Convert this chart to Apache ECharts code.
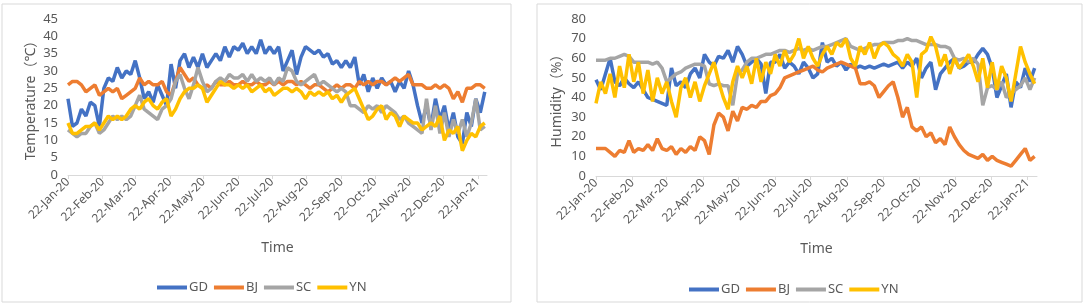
<!DOCTYPE html>
<html>
<head>
<meta charset="utf-8">
<script src="https://cdn.jsdelivr.net/npm/echarts@6/dist/echarts.min.js"></script>
<style>
  html, body { margin: 0; padding: 0; background: #fff; }
  #main { width: 1084px; height: 307px; }
</style>
</head>
<body>
<div id="main"></div>
<script>
// one sample every 4 days, starting 22-Jan-2020
const startDate = '2020-01-22';
const dayCount = 375;
const sampleStep = 4;
const seriesNames = ['GD', 'BJ', 'SC', 'YN'];
const colors = ['#4472C4', '#ED7D31', '#A5A5A5', '#FFC000'];

// temperature (℃)
const tempGD = [22,14,15,19,17,21,20,14,25,28,27,31,28,30,29,33,28,22,24,21,26,23,20,32,25,33,35,31,34,31,35,31,33,35,33,37,34,37,36,38,35,37,35,39,35,37,35,37,30,33,36,29,34,37,36,35,36,34,35,32,33,31,33,31,34,26,29,24,28,25,28,26,27,24,27,25,30,26,20,15,20,14,22,16,20,13,18,11,9,18,14,22,18,24];
const tempBJ = [26,27,27,26,24,25,26,23,24,25,24,25,22,23,24,25,28,26,27,26,26,27,24,23,27,31,29,27,28,26,25,26,25,27,26,26,27,26,26,27,26,26,27,26,26,27,26,27,26,27,27,26,27,26,25,26,26,25,24,25,26,25,26,26,25,27,26,27,26,27,27,26,27,28,27,28,29,26,26,26,25,25,26,25,26,25,22,24,21,25,25,26,26,25];
const tempSC = [13,12,11,12,12,14,15,12,13,15,17,16,17,16,17,20,23,19,18,17,16,19,20,22,27,29,25,22,26,31,27,24,25,27,28,27,29,28,28,29,27,29,27,28,27,28,26,28,27,31,30,27,26,27,28,29,26,27,26,25,24,25,24,20,20,19,18,20,19,20,18,20,19,18,16,17,15,14,13,12,22,13,20,12,18,11,16,12,16,11,15,22,13,14];
const tempYN = [15,12,12,13,14,14,15,13,15,17,16,17,16,17,19,20,19,21,22,20,19,21,22,17,19,22,24,25,25,26,25,21,23,25,27,26,26,25,26,25,26,24,25,26,24,25,23,24,25,25,24,25,24,22,24,23,24,23,24,22,23,21,23,24,25,22,19,16,17,19,20,16,18,17,14,17,16,15,15,13,14,15,14,17,10,13,12,14,7,10,12,11,14,15];

// humidity (%)
const humGD = [49,44,52,60,48,46,50,47,45,48,44,40,39,38,37,36,55,46,48,45,52,55,50,62,58,56,61,60,64,58,66,62,56,58,60,57,42,58,58,62,55,58,56,52,58,55,50,52,68,58,60,56,58,54,57,55,56,55,56,55,56,57,56,57,58,55,58,56,60,50,55,58,44,52,55,58,60,55,56,58,58,62,65,62,55,40,46,52,35,48,45,55,48,55];
const humBJ = [14,14,14,12,10,13,12,18,12,14,13,16,13,19,14,13,15,11,14,12,15,13,20,18,11,26,32,30,23,33,28,35,34,36,35,38,38,41,42,45,50,51,52,53,54,55,56,54,53,55,56,57,58,57,56,55,47,47,48,46,40,43,46,48,40,30,35,25,23,25,20,22,17,19,16,25,20,16,13,11,10,9,11,8,10,8,7,6,5,8,11,14,8,10];
const humSC = [59,59,59,60,60,61,62,61,58,58,58,58,57,58,55,48,50,52,53,55,56,57,57,56,47,46,47,46,46,36,52,54,58,60,60,61,62,62,63,64,64,63,64,65,64,65,64,65,66,66,67,68,69,70,66,65,64,65,66,67,67,68,68,68,69,69,70,69,69,68,67,67,67,66,66,65,60,59,60,58,60,57,36,45,46,44,48,40,42,44,46,50,44,50];
const humYN = [37,48,42,52,40,56,45,62,48,58,42,54,38,50,42,48,38,30,45,50,40,48,38,46,52,58,48,40,34,48,56,50,56,47,60,48,58,52,62,56,64,58,62,70,60,66,60,56,62,66,62,68,66,70,60,56,66,62,68,60,66,68,66,62,60,56,62,58,40,62,64,71,66,56,62,52,60,55,58,62,56,48,60,45,58,44,56,50,38,52,66,58,52,47];

const monthNames = ['Jan','Feb','Mar','Apr','May','Jun','Jul','Aug','Sep','Oct','Nov','Dec'];
let days = [];
let d0 = new Date(startDate + 'T00:00:00Z');
for (let i = 0; i < dayCount; i++) {
    let d = new Date(d0.getTime() + i * 86400000);
    days.push(d.getUTCDate() + '-' + monthNames[d.getUTCMonth()] + '-' + String(d.getUTCFullYear()).slice(2));
}
function isTick(index, value) {
    return value.indexOf('22-') === 0;
}
function toPairs(values) {
    return values.map((v, i) => [i * sampleStep, v]);
}

const font = 'Noto Sans, Noto Sans CJK SC, sans-serif';
const labelColor = '#595959';

function makeX(gridIndex) {
    return {
        type: 'category',
        gridIndex: gridIndex,
        data: days,
        boundaryGap: false,
        name: 'Time',
        nameLocation: 'middle',
        nameGap: 66,
        nameTextStyle: { color: labelColor, fontSize: 14, fontFamily: font },
        axisLine: { lineStyle: { color: '#d9d9d9', width: 1 } },
        axisTick: { interval: isTick, length: 4, lineStyle: { color: '#d9d9d9' } },
        axisLabel: {
            interval: isTick, rotate: 45, margin: 5,
            color: labelColor, fontSize: 12, fontFamily: font
        },
        splitLine: { show: false }
    };
}
function makeY(gridIndex, max, interval, name, gap) {
    return {
        type: 'value',
        gridIndex: gridIndex,
        min: 0, max: max, interval: interval,
        name: name,
        nameLocation: 'middle',
        nameGap: gap,
        nameTextStyle: { color: labelColor, fontSize: 14, fontFamily: font },
        axisLine: { show: false },
        axisTick: { show: false },
        axisLabel: { color: labelColor, fontSize: 13, fontFamily: font, margin: 10 },
        splitLine: { show: false }
    };
}

let series = [];
[[tempGD, tempBJ, tempSC, tempYN], [humGD, humBJ, humSC, humYN]].forEach((group, g) => {
    group.forEach((vals, s) => {
        series.push({
            name: seriesNames[s],
            type: 'line',
            xAxisIndex: g,
            yAxisIndex: g,
            data: toPairs(vals),
            showSymbol: false,
            symbol: 'none',
            lineStyle: { width: 3.5, color: colors[s] },
            itemStyle: { color: colors[s] }
        });
    });
});

let legendBase = {
    data: seriesNames,
    icon: 'rect',
    itemWidth: 30,
    itemHeight: 4,
    itemGap: 6,
    textStyle: { color: labelColor, fontSize: 13, fontFamily: font, padding: [0, 0, 0, -3] },
    selectedMode: false
};

let myChart = echarts.init(document.getElementById('main'));
myChart.setOption({
    animation: false,
    backgroundColor: '#fff',
    color: colors,
    graphic: [
        { type: 'rect', shape: { x: 2, y: 4, width: 509, height: 298 }, style: { fill: 'none', stroke: '#d9d9d9', lineWidth: 1 } },
        { type: 'rect', shape: { x: 537, y: 4, width: 545, height: 298 }, style: { fill: 'none', stroke: '#d9d9d9', lineWidth: 1 } }
    ],
    grid: [
        { left: 68, top: 19, width: 419, height: 156 },
        { left: 596, top: 19, width: 441, height: 157 }
    ],
    xAxis: [makeX(0), makeX(1)],
    yAxis: [
        makeY(0, 45, 5, 'Temperature（℃）', 30),
        makeY(1, 80, 10, 'Humidity（%）', 32)
    ],
    legend: [
        Object.assign({}, legendBase, { left: 152, top: 276 }),
        Object.assign({}, legendBase, { left: 684, top: 278 })
    ],
    series: series
});
</script>
</body>
</html>
